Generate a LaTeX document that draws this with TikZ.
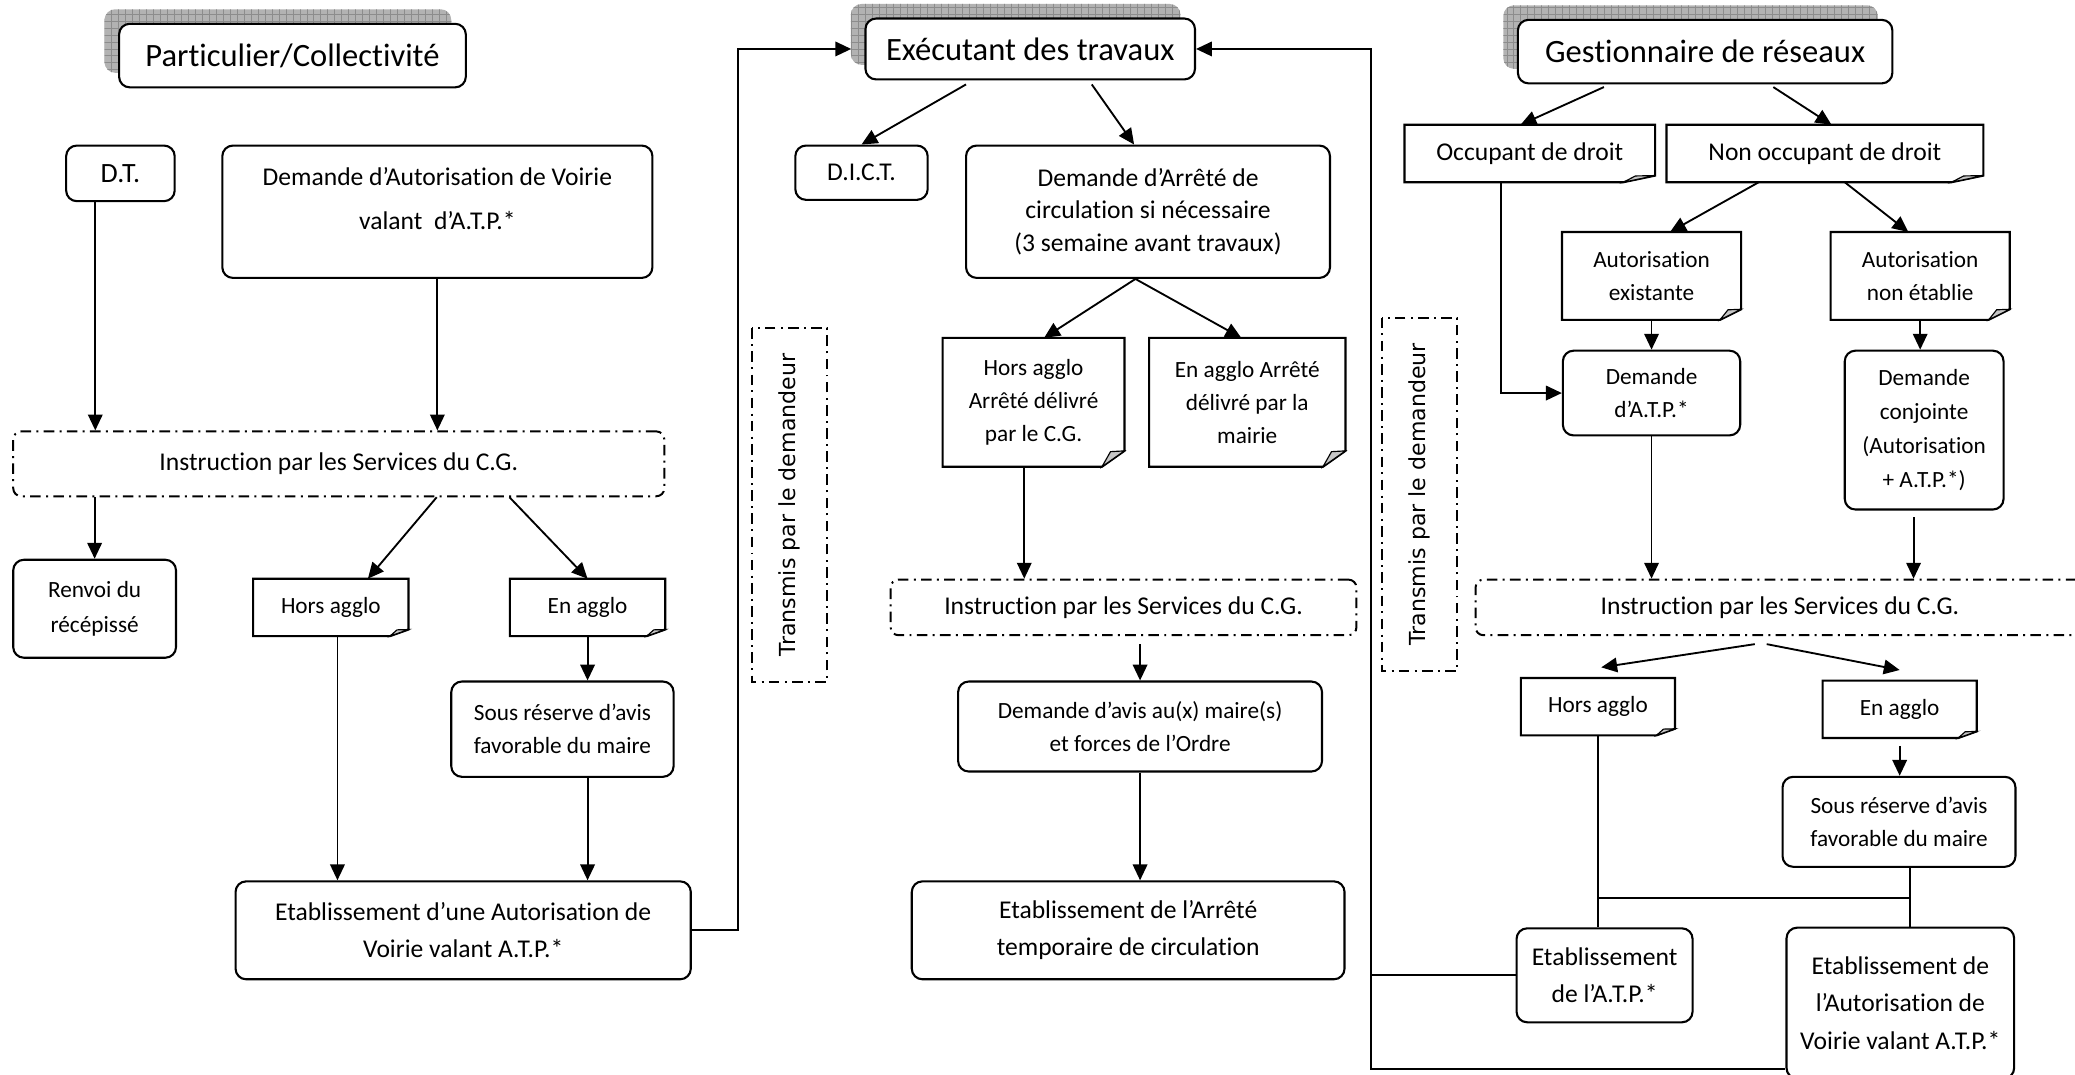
\documentclass[tikz,border=0pt]{standalone}
\usepackage{fontspec}
\setmainfont{Carlito}[Ligatures={NoCommon,NoContextual},Contextuals=NoAlternate]
\newfontfamily\vertfont{DejaVu Sans}
\usetikzlibrary{arrows.meta,shadows,patterns,positioning}

\tikzset{
    sz/.style 2 args={minimum width=#1*0.2mm,minimum height=#2*0.2mm},
    box/.style={draw,rounded corners=1.6mm,line width=0.9pt,fill=white,align=center,inner sep=0pt},
    note/.style={align=center,inner sep=0pt},
    head/.style={box,font=\fontsize{14}{16}\selectfont,
        general shadow={shadow xshift=-2.2mm,shadow yshift=2.2mm,fill=gray!60},
        general shadow={shadow xshift=-2.2mm,shadow yshift=2.2mm,pattern=grid,pattern color=gray!90}},
    dashdot/.style={dash pattern=on 1.6mm off 0.8mm on 0.3mm off 0.8mm},
    instr/.style={draw,dashdot,rounded corners=1.2mm,line width=0.85pt,align=center,inner sep=0pt,font=\fontsize{11}{14}\selectfont},
    trans/.style={draw,dashdot,line width=0.85pt,inner sep=0pt,font=\vertfont\fontsize{9.5}{11}\selectfont},
    big/.style={font=\fontsize{11}{16}\selectfont},
    small/.style={font=\fontsize{10}{14.2}\selectfont}
}

\begin{document}
\begin{tikzpicture}[x=0.2mm,y=-0.2mm,>={Triangle[length=2.4mm,width=2.2mm]},line width=0.8pt]
\useasboundingbox (0,0) rectangle (1568,812);

% Particulier
\node[head,sz={262}{48}] (part) at (221,42) {Particulier/Collectivité};
\node[box,font=\fontsize{12}{14}\selectfont,sz={82}{42}] (dt) at (91,131) {D.T.};
\node[box,sz={325}{100}] (dav) at (330.5,160) {};
\node[note,font=\fontsize{11}{18.8}\selectfont] (davt) at (330.5,150) {Demande d’Autorisation de Voirie\\valant\ \ d’A.T.P.*};
\node[instr,sz={492}{49}] (ins1) at (256,350.5) {Instruction par les Services du C.G.};
\node[box,font=\fontsize{10}{14.8}\selectfont,sz={123}{74}] (renv) at (71.5,460) {Renvoi du\\récépissé};
\node[note,small,sz={116}{42}] (horsA) at (250,459) {Hors agglo};
\node[note,small,sz={116}{42}] (enA) at (444,459) {En agglo};
\node[box,small,sz={168}{72}] (sousA) at (425,551) {Sous réserve d’avis\\favorable du maire};
\node[box,big,sz={344}{74}] (etabA) at (350,703) {Etablissement d’une Autorisation de\\Voirie valant A.T.P.*};
\node[trans,rotate=90,sz={267}{57}] (transA) at (596.5,381.5) {Transmis par le demandeur};

% Executant
\node[head,sz={249}{46}] (exec) at (778.5,37) {Exécutant des travaux};
\node[box,big,sz={100}{41}] (dict) at (651,130.5) {D.I.C.T.};
\node[box,font=\fontsize{11}{14}\selectfont,sz={275}{100}] (darr) at (867.5,160) {Demande d’Arrêté de\\circulation si nécessaire\\(3 semaine avant travaux)};
\node[note,small,sz={136}{96}] (horsB) at (781,304) {Hors agglo\\Arrêté délivré\\par le C.G.};
\node[note,small,sz={147}{96}] (enB) at (942.5,304) {En agglo Arrêté\\délivré par la\\mairie};
\node[instr,sz={352}{42}] (ins2) at (849,459) {Instruction par les Services du C.G.};
\node[box,small,sz={275}{68}] (avis) at (861.5,549) {Demande d’avis au(x) maire(s)\\et forces de l’Ordre};
\node[box,big,sz={327}{74}] (etabB) at (852.5,703) {Etablissement de l’Arrêté\\temporaire de circulation};
\node[trans,rotate=90,sz={267}{57}] (transB) at (1072.5,373.5) {Transmis par le demandeur};

% Gestionnaire
\node[head,sz={283}{48}] (gest) at (1288.5,39) {Gestionnaire de réseaux};
\node[note,big,sz={188}{42}] (occ) at (1156,116) {Occupant de droit};
\node[note,big,sz={238}{42}] (nocc) at (1379,116) {Non occupant de droit};
\node[note,small,sz={134}{65}] (autex) at (1248,208.5) {Autorisation\\existante};
\node[note,small,sz={134}{65}] (autne) at (1451,208.5) {Autorisation\\non établie};
\node[box,font=\fontsize{10}{13.8}\selectfont,sz={134}{64}] (datp) at (1248,297) {Demande\\d’A.T.P.*};
\node[box,font=\fontsize{10}{14.5}\selectfont,sz={120}{120}] (dconj) at (1454,325) {Demande\\conjointe\\(Autorisation\\+ A.T.P.*)};
\node[instr,sz={460}{42}] (ins3) at (1345,459) {Instruction par les Services du C.G.};
\node[note,small,sz={115}{42}] (horsC) at (1207.5,534) {Hors agglo};
\node[note,small,sz={115}{42}] (enC) at (1435.5,536) {En agglo};
\node[box,small,sz={176}{68}] (sousC) at (1435,621) {Sous réserve d’avis\\favorable du maire};
\node[box,big,sz={133}{71}] (etabC) at (1212.5,737) {Etablissement\\de l’A.T.P.*};
\node[box,big,sz={172}{114}] (etabD) at (1436,758) {Etablissement de\\l’Autorisation de\\Voirie valant A.T.P.*};

% folded corners
\foreach \n/\fw/\fh in {horsA/14/5,enA/14/5,horsB/17/12,enB/17/12,occ/24/5,nocc/24/5,autex/16/8,autne/16/8,horsC/14/5,enC/14/5}{
  \draw[line width=0.9pt] (\n.north west) -- (\n.north east) -- ([yshift=\fh*0.2mm]\n.south east)
    -- ([xshift=-\fw*0.2mm]\n.south east) -- (\n.south west) -- cycle;
  \filldraw[fill=gray!45,line width=0.5pt] ([xshift=-\fw*0.2mm]\n.south east) -- ([yshift=\fh*0.2mm]\n.south east)
    -- ([xshift=-0.62*\fw*0.2mm,yshift=0.95*\fh*0.2mm]\n.south east) -- cycle;
}

% links, left
\coordinate (dtx) at ([xshift=-3.8mm]dt.south);
\draw[->] (dtx) -- (dtx |- ins1.north);
\draw[->] (dav.south) -- (dav.south |- ins1.north);
\draw[->] (ins1.south -| renv.north) -- (renv.north);
\draw[->] ([xshift=14.8mm]ins1.south) -- ([xshift=5.6mm]horsA.north);
\draw[->] ([xshift=25.8mm]ins1.south) -- (enA.north);
\coordinate (hax) at ([xshift=1mm]horsA.south);
\draw[->] (hax) -- (hax |- etabA.north);
\draw[->] (enA.south) -- (enA.south |- sousA.north);
\draw[->] (enA.south |- sousA.south) -- (enA.south |- etabA.north);
\coordinate (up) at ([xshift=7mm]etabA.east);
\draw[->] (etabA.east) -- (up) |- ([xshift=-2mm]exec.west);

% links, middle
\draw[->] ([xshift=-9.7mm,yshift=-0.6mm]exec.south) -- (dict.north);
\draw[->] ([xshift=9.3mm,yshift=-0.6mm]exec.south) -- ([xshift=-2.1mm]darr.north);
\draw[->] ([xshift=-1.9mm]darr.south) -- ([xshift=1.6mm]horsB.north);
\draw[->] ([xshift=-1.9mm]darr.south) -- ([xshift=-0.9mm]enB.north);
\coordinate (hbx) at ([xshift=-1.4mm]horsB.south);
\draw[->] (hbx) -- (hbx |- ins2.north);
\coordinate (i2s) at ([yshift=-1.2mm]ins2.south);
\draw[->] (i2s -| avis.north) -- (avis.north);
\draw[->] (avis.south) -- (avis.south |- etabB.north);
\coordinate (bus) at ([xshift=-21.8mm]etabC.west);
\draw (etabC.west) -- (bus);
\draw[->] ([yshift=1.6mm]etabD.south west) -| (bus) |- (exec.east);

% links, right
\draw[->] ([xshift=-15.3mm,yshift=-0.4mm]gest.south) -- ([xshift=-1.4mm]occ.north);
\draw[->] ([xshift=10.3mm,yshift=-0.4mm]gest.south) -- ([xshift=1mm]nocc.north);
\draw[->] ([xshift=-10mm]nocc.south) -- ([xshift=2.8mm]autex.north);
\draw[->] ([xshift=3mm]nocc.south) -- ([xshift=-1.8mm]autne.north);
\draw[->] (autex.south) -- (datp.north);
\draw[->] (autne.south) -- (autne.south |- dconj.north);
\coordinate (ocx) at ([xshift=-4.4mm]occ.south);
\draw[->] (ocx) |- (datp.west);
\draw[->] (datp.south) -- (datp.south |- ins3.north);
\coordinate (dcx) at ([xshift=-1.6mm,yshift=-1mm]dconj.south);
\draw[->] (dcx) -- (dcx |- ins3.north);
\draw[->] ([xshift=-3.8mm,yshift=-1.2mm]ins3.south) -- ([xshift=0.5mm,yshift=1.6mm]horsC.north);
\draw[->] ([xshift=-2mm,yshift=-1.2mm]ins3.south) -- ([yshift=1.6mm]enC.north);
\coordinate (ecx) at ([yshift=-1.2mm]enC.south);
\draw[->] (ecx) -- (ecx |- sousC.north);
\draw (horsC.south) -- (horsC.south |- etabC.north);
\coordinate (scx) at ([xshift=1.6mm]sousC.south);
\draw (scx) -- (scx |- etabD.north);
\coordinate (jn) at ([yshift=4.4mm]etabC.north);
\draw (jn -| horsC.south) -- (jn -| scx);
\end{tikzpicture}
\end{document}
